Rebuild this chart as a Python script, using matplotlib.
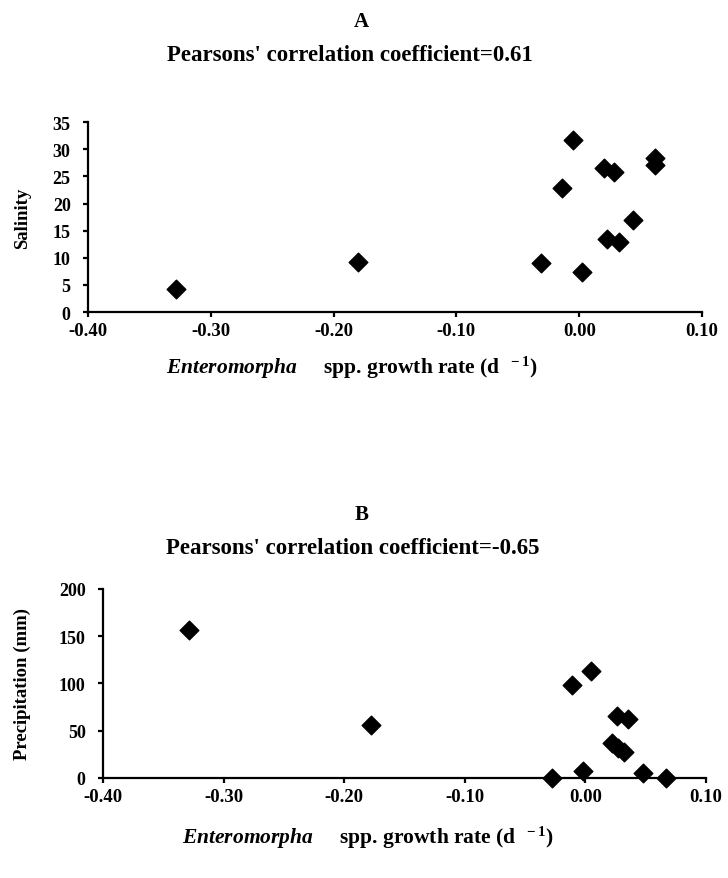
import numpy as np
import matplotlib.pyplot as plt

plt.rcParams['font.family'] = ['Liberation Serif', 'DejaVu Serif']
plt.rcParams['font.weight'] = 'bold'
plt.rcParams['axes.unicode_minus'] = False
plt.rcParams['mathtext.fontset'] = 'custom'
plt.rcParams['mathtext.it'] = 'Liberation Serif:italic:bold'
plt.rcParams['mathtext.rm'] = 'Liberation Serif:bold'

# Panel A: growth rate vs salinity
growth_a = [-0.328, -0.180, -0.031, 0.002, -0.005, -0.014, 0.020, 0.028,
            0.023, 0.032, 0.044, 0.062, 0.062]
salinity = [4.2, 9.3, 9.0, 7.3, 31.7, 22.8, 26.6, 25.8,
            13.4, 12.9, 17.0, 28.4, 27.1]

# Panel B: growth rate vs precipitation
growth_b = [-0.329, -0.178, -0.028, -0.002, -0.011, 0.005, 0.026, 0.035,
            0.022, 0.027, 0.032, 0.048, 0.067]
precip = [157, 56, 0, 7, 98, 113, 66, 62, 37, 32, 27, 5, 0]

xticks = [-0.40, -0.30, -0.20, -0.10, 0.00, 0.10]
xticklabels = ['-0.40', '-0.30', '-0.20', '-0.10', '0.00', '0.10']
yticks_a = [0, 5, 10, 15, 20, 25, 30, 35]
yticks_b = [0, 50, 100, 150, 200]

xlabel = r'$\mathit{Enteromorpha}$     spp. growth rate (d $^{\ -1}$)'

fig = plt.figure(figsize=(7.28, 8.79), dpi=100)
axA = fig.add_axes([0.1209, 0.6439, 0.8434, 0.216])
axB = fig.add_axes([0.1415, 0.1138, 0.8283, 0.215])


def style(ax, yticks, ylab, lx, ly):
    ax.set_xlim(-0.40, 0.10)
    ax.set_xticks(xticks)
    ax.set_xticklabels(xticklabels)
    ax.set_ylim(yticks[0], yticks[-1])
    ax.set_yticks(yticks)
    for s in ['top', 'right']:
        ax.spines[s].set_visible(False)
    for s in ['left', 'bottom']:
        ax.spines[s].set_linewidth(1.6)
    ax.tick_params(direction='out', length=3.5, width=1.6, labelsize=13, pad=9)
    ax.tick_params(axis='x', labelsize=13.5, pad=3.5)
    ax.set_ylabel(ylab, fontsize=13.5, fontweight='bold')
    ax.set_xlabel(xlabel, fontsize=15.5, fontweight='bold')
    ax.xaxis.set_label_coords(lx, ly)
    ax.xaxis.label.set_verticalalignment('center')


axA.scatter(growth_a, salinity, marker='D', s=90, color='black', clip_on=False, zorder=3)
style(axA, yticks_a, 'Salinity', 0.43, -0.29)
axB.scatter(growth_b, precip, marker='D', s=90, color='black', clip_on=False, zorder=3)
style(axB, yticks_b, 'Precipitation (mm)', 0.44, -0.312)
axA.yaxis.set_label_coords(-0.092, 0.5)
axB.yaxis.set_label_coords(-0.12, 0.5)

fig.text(0.497, 0.975, 'A', ha='center', va='center', fontsize=15, fontweight='bold')
fig.text(0.48, 0.937, "Pearsons' correlation coefficient=0.61", ha='center', va='center',
         fontsize=16.5, fontweight='bold')
fig.text(0.497, 0.414, 'B', ha='center', va='center', fontsize=15, fontweight='bold')
fig.text(0.485, 0.376, "Pearsons' correlation coefficient=-0.65", ha='center', va='center',
         fontsize=16.5, fontweight='bold')

fig.savefig('out.png', dpi=100)
